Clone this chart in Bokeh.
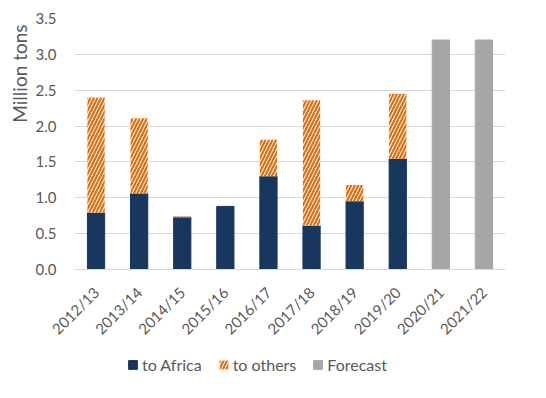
from bokeh.plotting import figure
from bokeh.layouts import column
from bokeh.models import (ColumnDataSource, Legend, LegendItem, FactorRange,
                          SingleIntervalTicker, NumeralTickFormatter, Title)
from bokeh.embed import file_html
from bokeh.resources import INLINE
import math

seasons = ["2012/13", "2013/14", "2014/15", "2015/16", "2016/17",
           "2017/18", "2018/19", "2019/20", "2020/21", "2021/22"]
to_africa = [0.79, 1.06, 0.73, 0.88, 1.30, 0.61, 0.95, 1.54, 0.0, 0.0]
to_others = [1.61, 1.05, 0.01, 0.0, 0.51, 1.75, 0.23, 0.91, 0.0, 0.0]
forecast = [0.0, 0.0, 0.0, 0.0, 0.0, 0.0, 0.0, 0.0, 3.2, 3.2]
legend_labels = ["to Africa", "to others", "Forecast"]

NAVY = "#17375e"
ORANGE = "#e46c0a"
GRAY = "#a6a6a6"
TEXT = "#595959"
FONT = "Lato"

total = [a + o for a, o in zip(to_africa, to_others)]
hist = [s for s, f in zip(seasons, forecast) if f == 0]
src_hist = ColumnDataSource(dict(
    x=hist,
    africa=[a for a, f in zip(to_africa, forecast) if f == 0],
    total=[t for t, f in zip(total, forecast) if f == 0],
))
src_fc = ColumnDataSource(dict(
    x=[s for s, f in zip(seasons, forecast) if f > 0],
    fc=[f for f in forecast if f > 0],
))

af_style = dict(fill_color=NAVY, line_color=NAVY)
ot_style = dict(fill_color="white", line_color=None,
                hatch_pattern="right_diagonal_line", hatch_color=ORANGE,
                hatch_scale=7, hatch_weight=2.2)
fc_style = dict(fill_color=GRAY, line_color=GRAY)

p = figure(x_range=FactorRange(*seasons), y_range=(0, 3.5),
           width=546, height=348, output_backend="svg", toolbar_location=None,
           min_border_left=74, min_border_right=41, min_border_top=18, min_border_bottom=79)
p.outline_line_color = None
p.background_fill_color = "white"
p.border_fill_color = "white"

w = 0.4
p.vbar(x="x", top="africa", bottom=0, width=w, source=src_hist, **af_style)
p.vbar(x="x", top="total", bottom="africa", width=w, source=src_hist, **ot_style)
p.vbar(x="x", top="fc", bottom=0, width=w, source=src_fc, **fc_style)

p.yaxis.ticker = SingleIntervalTicker(interval=0.5)
p.yaxis.formatter = NumeralTickFormatter(format="0.0")
p.yaxis.axis_line_color = None
p.yaxis.major_tick_line_color = None
p.yaxis.minor_tick_line_color = None
p.yaxis.major_label_text_font = FONT
p.yaxis.major_label_text_font_size = "15px"
p.yaxis.major_label_text_color = TEXT
p.yaxis.major_label_standoff = 12

p.add_layout(Title(text="Million tons", align="right", offset=6, standoff=4,
                   text_font=FONT, text_font_size="19px", text_font_style="normal",
                   text_color=TEXT), "left")

p.xaxis.axis_line_color = "#d9d9d9"
p.xaxis.major_tick_line_color = None
p.xaxis.minor_tick_line_color = None
p.xaxis.major_label_orientation = math.pi / 4
p.xaxis.major_label_standoff = 14
p.xaxis.major_label_text_font = FONT
p.xaxis.major_label_text_font_size = "15px"
p.xaxis.major_label_text_color = TEXT

p.xgrid.grid_line_color = None
p.ygrid.grid_line_color = "#d9d9d9"
p.ygrid.grid_line_width = 1

# legend strip below the chart
lf = figure(width=546, height=45, output_backend="svg", toolbar_location=None,
            x_range=(0, 1), y_range=(0, 1), x_axis_location=None, y_axis_location=None,
            min_border_left=0, min_border_right=0, min_border_top=0, min_border_bottom=0)
lf.grid.visible = False
lf.outline_line_color = None
dummy = ColumnDataSource(dict(x=[0.5], top=[0.0], bottom=[0.0]))
l_af = lf.vbar(x="x", top="top", bottom="bottom", width=0.1, source=dummy, visible=False, **af_style)
l_ot = lf.vbar(x="x", top="top", bottom="bottom", width=0.1, source=dummy, visible=False, **ot_style)
l_fc = lf.vbar(x="x", top="top", bottom="bottom", width=0.1, source=dummy, visible=False, **fc_style)

legend = Legend(items=[
    LegendItem(label=legend_labels[0], renderers=[l_af]),
    LegendItem(label=legend_labels[1], renderers=[l_ot]),
    LegendItem(label=legend_labels[2], renderers=[l_fc]),
], orientation="horizontal", location=(53, 19),
    label_text_font=FONT, label_text_font_size="16px", label_text_color=TEXT,
    glyph_width=11, glyph_height=11, label_standoff=4, spacing=16,
    padding=0, margin=0, border_line_color=None, background_fill_alpha=0,
    inactive_fill_alpha=0)
lf.add_layout(legend)

open("out.html", "w").write(file_html(column(p, lf), INLINE))
